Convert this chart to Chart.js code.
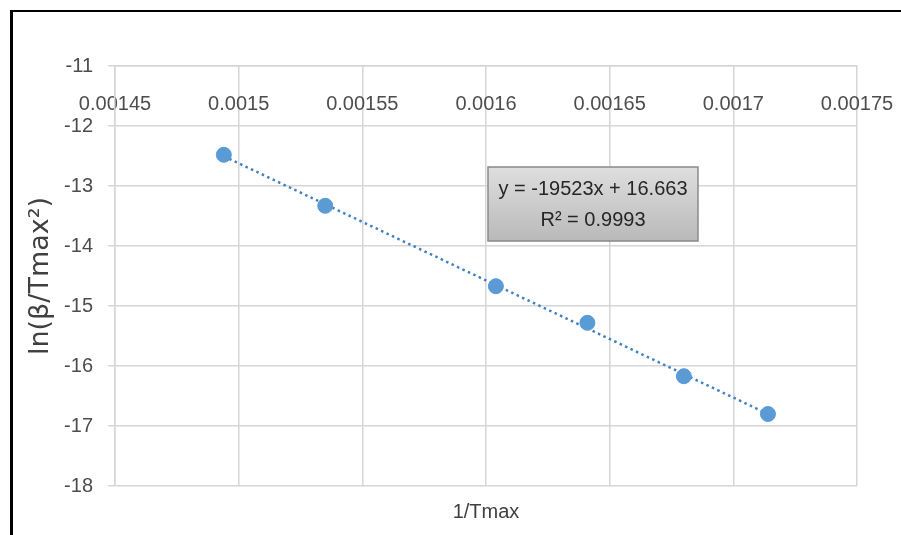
<!DOCTYPE html>
<html>
<head>
<meta charset="utf-8">
<script src="https://cdn.jsdelivr.net/npm/chart.js"></script>
<style>
  html, body { margin: 0; padding: 0; background: #fff; }
  #wrap { width: 901px; height: 535px; }
</style>
</head>
<body>
<div id="wrap"><canvas id="myChart" width="901" height="535"></canvas></div>
<script>
  // data
  const xValues = [0.001494, 0.001535, 0.001604, 0.001641, 0.001680, 0.001714];
  const yValues = [-12.48, -13.33, -14.67, -15.28, -16.17, -16.80];
  const xTicks = [0.00145, 0.0015, 0.00155, 0.0016, 0.00165, 0.0017, 0.00175];
  const trendSlope = -19523;
  const trendIntercept = 16.663;
  const eqLines = ['y = -19523x + 16.663', 'R² = 0.9993'];

  const points = xValues.map((x, i) => ({ x: x, y: yValues[i] }));
  const xMin = Math.min(...xValues), xMax = Math.max(...xValues);
  const trend = [xMin, xMax].map(x => ({ x: x, y: trendSlope * x + trendIntercept }));

  const frame = {
    id: 'frame',
    beforeDraw(chart) {
      const ctx = chart.ctx;
      ctx.save();
      ctx.fillStyle = '#fff';
      ctx.fillRect(0, 0, chart.width, chart.height);
      ctx.strokeStyle = '#000';
      ctx.lineWidth = 3;
      ctx.beginPath();
      ctx.moveTo(11.5, 10);
      ctx.lineTo(11.5, chart.height);
      ctx.stroke();
      ctx.lineWidth = 2;
      ctx.beginPath();
      ctx.moveTo(10, 11);
      ctx.lineTo(chart.width, 11);
      ctx.stroke();
      ctx.restore();
    }
  };

  const eqBox = {
    id: 'eqBox',
    afterDatasetsDraw(chart) {
      const a = chart.chartArea, ctx = chart.ctx;
      const w = a.right - a.left, h = a.bottom - a.top;
      const l = a.left + w * 0.5027, r = a.left + w * 0.7857;
      const t = a.top + h * 0.2405, b = a.top + h * 0.4167;
      ctx.save();
      const g = ctx.createLinearGradient(0, t, 0, b);
      g.addColorStop(0, '#dedede');
      g.addColorStop(1, '#b9b9b9');
      ctx.fillStyle = g;
      ctx.fillRect(l, t, r - l, b - t);
      ctx.strokeStyle = '#8a8a8a';
      ctx.lineWidth = 1.5;
      ctx.strokeRect(l, t, r - l, b - t);
      ctx.fillStyle = '#262626';
      ctx.font = '20px "Liberation Sans", Arial, sans-serif';
      ctx.textAlign = 'center';
      ctx.textBaseline = 'middle';
      const cx = (l + r) / 2;
      ctx.fillText(eqLines[0], cx, t + (b - t) * 0.30);
      ctx.fillText(eqLines[1], cx, t + (b - t) * 0.72);
      ctx.restore();
    }
  };

  const ctx = document.getElementById('myChart').getContext('2d');
  const myChart = new Chart(ctx, {
    type: 'scatter',
    data: {
      datasets: [
        {
          data: points,
          backgroundColor: '#5b9bd5',
          borderColor: '#5b9bd5',
          pointRadius: 7.5,
          pointHoverRadius: 7.5,
          order: 1
        },
        {
          type: 'line',
          data: trend,
          borderColor: '#3f80c4',
          borderWidth: 2.5,
          borderDash: [2.5, 3.5],
          pointRadius: 0,
          fill: false,
          order: 2
        }
      ]
    },
    options: {
      responsive: false,
      animation: false,
      layout: { padding: { left: 12, top: 66, right: 44, bottom: 11 } },
      scales: {
        x: {
          type: 'linear',
          min: 0.00145,
          max: 0.00175,
          position: { y: -11 },
          afterBuildTicks(scale) { scale.ticks = xTicks.map(v => ({ value: v })); },
          afterFit(scale) { scale.paddingLeft = 0; scale.paddingRight = 0; },
          grid: { color: '#d6d6d6', lineWidth: 1.5, drawTicks: false },
          border: { color: '#d6d6d6', width: 1.5 },
          ticks: {
            padding: 26,
            color: '#4d4d4d',
            font: { family: '"Liberation Sans", Arial, sans-serif', size: 20 },
            maxRotation: 0,
            autoSkip: false,
            callback: v => String(+Number(v).toFixed(5))
          }
        },
        y: {
          min: -18,
          max: -11,
          afterFit(scale) { scale.width = 103; scale.paddingTop = 0; scale.paddingBottom = 0; },
          grid: { color: '#d6d6d6', lineWidth: 1.5, tickLength: 7 },
          border: { color: '#d6d6d6', width: 1.5 },
          ticks: {
            stepSize: 1,
            padding: 15,
            color: '#4d4d4d',
            font: { family: '"Liberation Sans", Arial, sans-serif', size: 20 }
          },
          title: {
            display: true,
            text: 'ln(β/Tmax²)',
            color: '#404040',
            padding: { top: 13, bottom: 0 },
            font: { family: '"DejaVu Sans", sans-serif', size: 27, weight: 'normal' }
          }
        }
      },
      plugins: {
        legend: { display: false },
        tooltip: { enabled: false },
        title: {
          display: true,
          position: 'bottom',
          fullSize: false,
          text: '1/Tmax',
          color: '#404040',
          padding: { top: 14, bottom: 0 },
          font: { family: '"Liberation Sans", Arial, sans-serif', size: 20, weight: 'normal' }
        }
      }
    },
    plugins: [frame, eqBox]
  });
</script>
</body>
</html>
